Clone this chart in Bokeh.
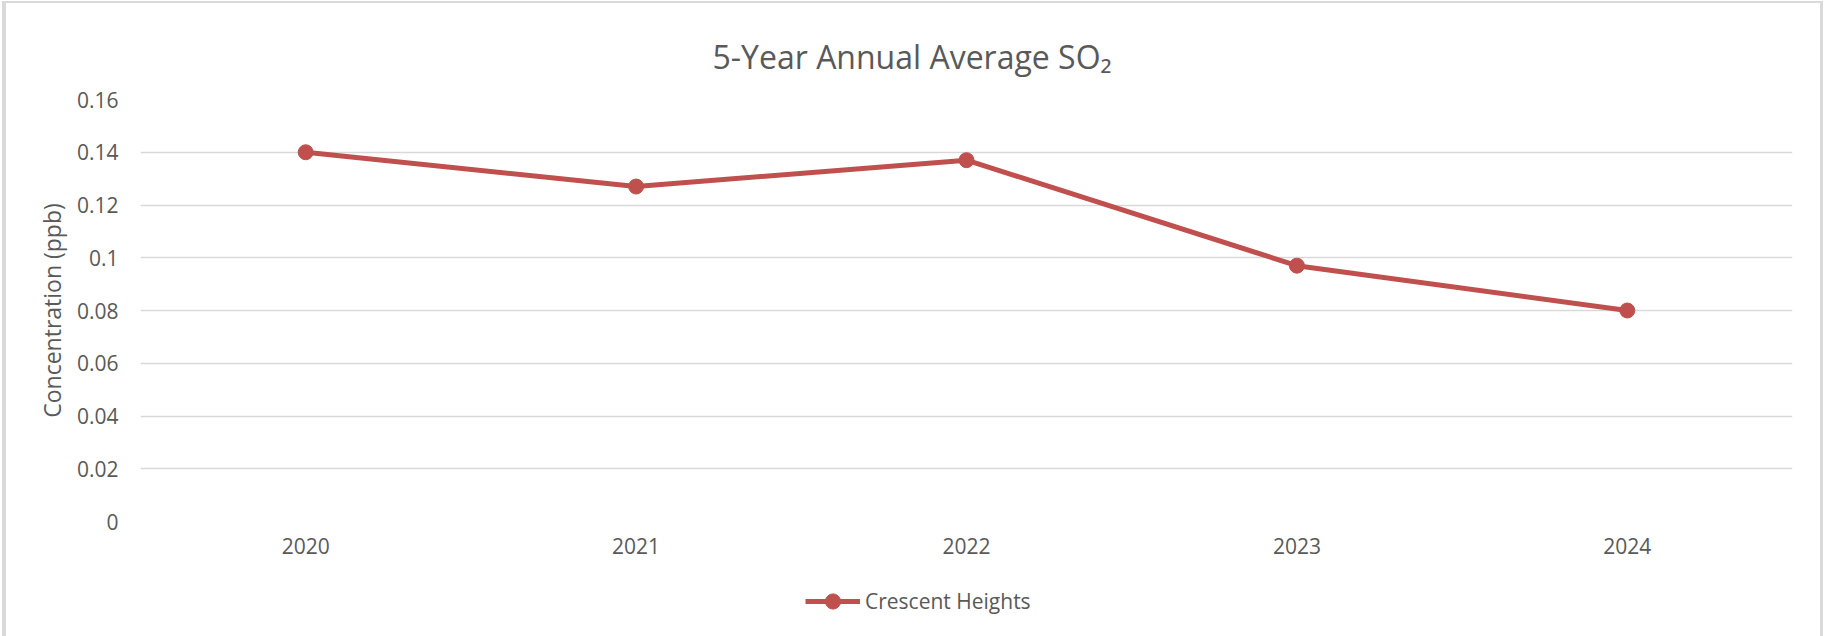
from bokeh.plotting import figure
from bokeh.models import Range1d, FactorRange, Legend, LegendItem, ColumnDataSource
from bokeh.layouts import column
from bokeh.embed import file_html
from bokeh.resources import INLINE

years = ["2020", "2021", "2022", "2023", "2024"]
crescent_heights = [0.140, 0.127, 0.137, 0.097, 0.080]
y_ticks = [0, 0.02, 0.04, 0.06, 0.08, 0.1, 0.12, 0.14, 0.16]
series_name = "Crescent Heights"

FONT = "Open Sans"
TXT = "#595959"
RED = "#C0504D"

src = ColumnDataSource(dict(x=years, y=crescent_heights))

p = figure(width=1825, height=575, x_range=FactorRange(*years, range_padding=0),
           y_range=Range1d(0, 0.16), output_backend="svg", toolbar_location=None,
           min_border_left=140, min_border_right=33, min_border_top=99, min_border_bottom=54)
p.outline_line_color = None
p.border_fill_color = None
p.background_fill_color = None

p.title.text = "5-Year Annual Average SO\u2082"
p.title.align = "left"
p.title.offset = 572
p.title.text_font = FONT
p.title.text_font_size = "32px"
p.title.text_font_style = "normal"
p.title.text_color = TXT
p.title.standoff = 44

p.line("x", "y", source=src, line_color=RED, line_width=5)
p.scatter("x", "y", source=src, size=15, fill_color=RED, line_color=RED)

p.yaxis.ticker = y_ticks
p.yaxis.major_label_overrides = {0: "0", 0.1: "0.1"}
p.yaxis.axis_label = "Concentration (ppb)"
p.yaxis.axis_label_text_font = FONT
p.yaxis.axis_label_text_font_size = "23px"
p.yaxis.axis_label_text_font_style = "normal"
p.yaxis.axis_label_text_color = TXT
p.yaxis.axis_label_standoff = 6

for ax in (p.xaxis, p.yaxis):
    ax.axis_line_color = None
    ax.major_tick_line_color = None
    ax.minor_tick_line_color = None
    ax.major_label_text_font = FONT
    ax.major_label_text_font_size = "21px"
    ax.major_label_text_color = TXT
p.yaxis.major_label_standoff = 16
p.xaxis.major_label_standoff = 10

p.xgrid.grid_line_color = None
p.ygrid.grid_line_color = "#D9D9D9"
p.ygrid.grid_line_width = 1.5

# legend strip below the chart (same series, drawn out of its visible range)
lg = figure(width=1825, height=61, x_range=FactorRange(*years, range_padding=0),
            y_range=Range1d(1, 2), x_axis_type=None, y_axis_type=None,
            output_backend="svg", toolbar_location=None,
            min_border_left=0, min_border_right=0, min_border_top=0, min_border_bottom=0)
lg.grid.visible = False
lg.outline_line_color = None
lg.border_fill_color = None
lg.background_fill_color = None
l_line = lg.line("x", "y", source=src, line_color=RED, line_width=5)
l_pts = lg.scatter("x", "y", source=src, size=15, fill_color=RED, line_color=RED)
legend = Legend(items=[LegendItem(label=series_name, renderers=[l_line, l_pts])],
                location=(665, 16), orientation="horizontal",
                padding=0, margin=0, spacing=0, glyph_width=55, glyph_height=38,
                label_standoff=5, background_fill_alpha=0, border_line_color=None,
                label_text_font=FONT, label_text_font_size="21px", label_text_color=TXT)
lg.add_layout(legend, "center")

page = column(p, lg, spacing=0, styles={
    "box-shadow": ("inset 2px 1px 0 0 #FFFFFF, inset -2px 0 0 0 #FFFFFF, "
                   "inset 6px 3px 0 0 #D9D9D9, inset -5px 0 0 0 #D9D9D9")})
open("out.html", "w").write(file_html(page, INLINE))
